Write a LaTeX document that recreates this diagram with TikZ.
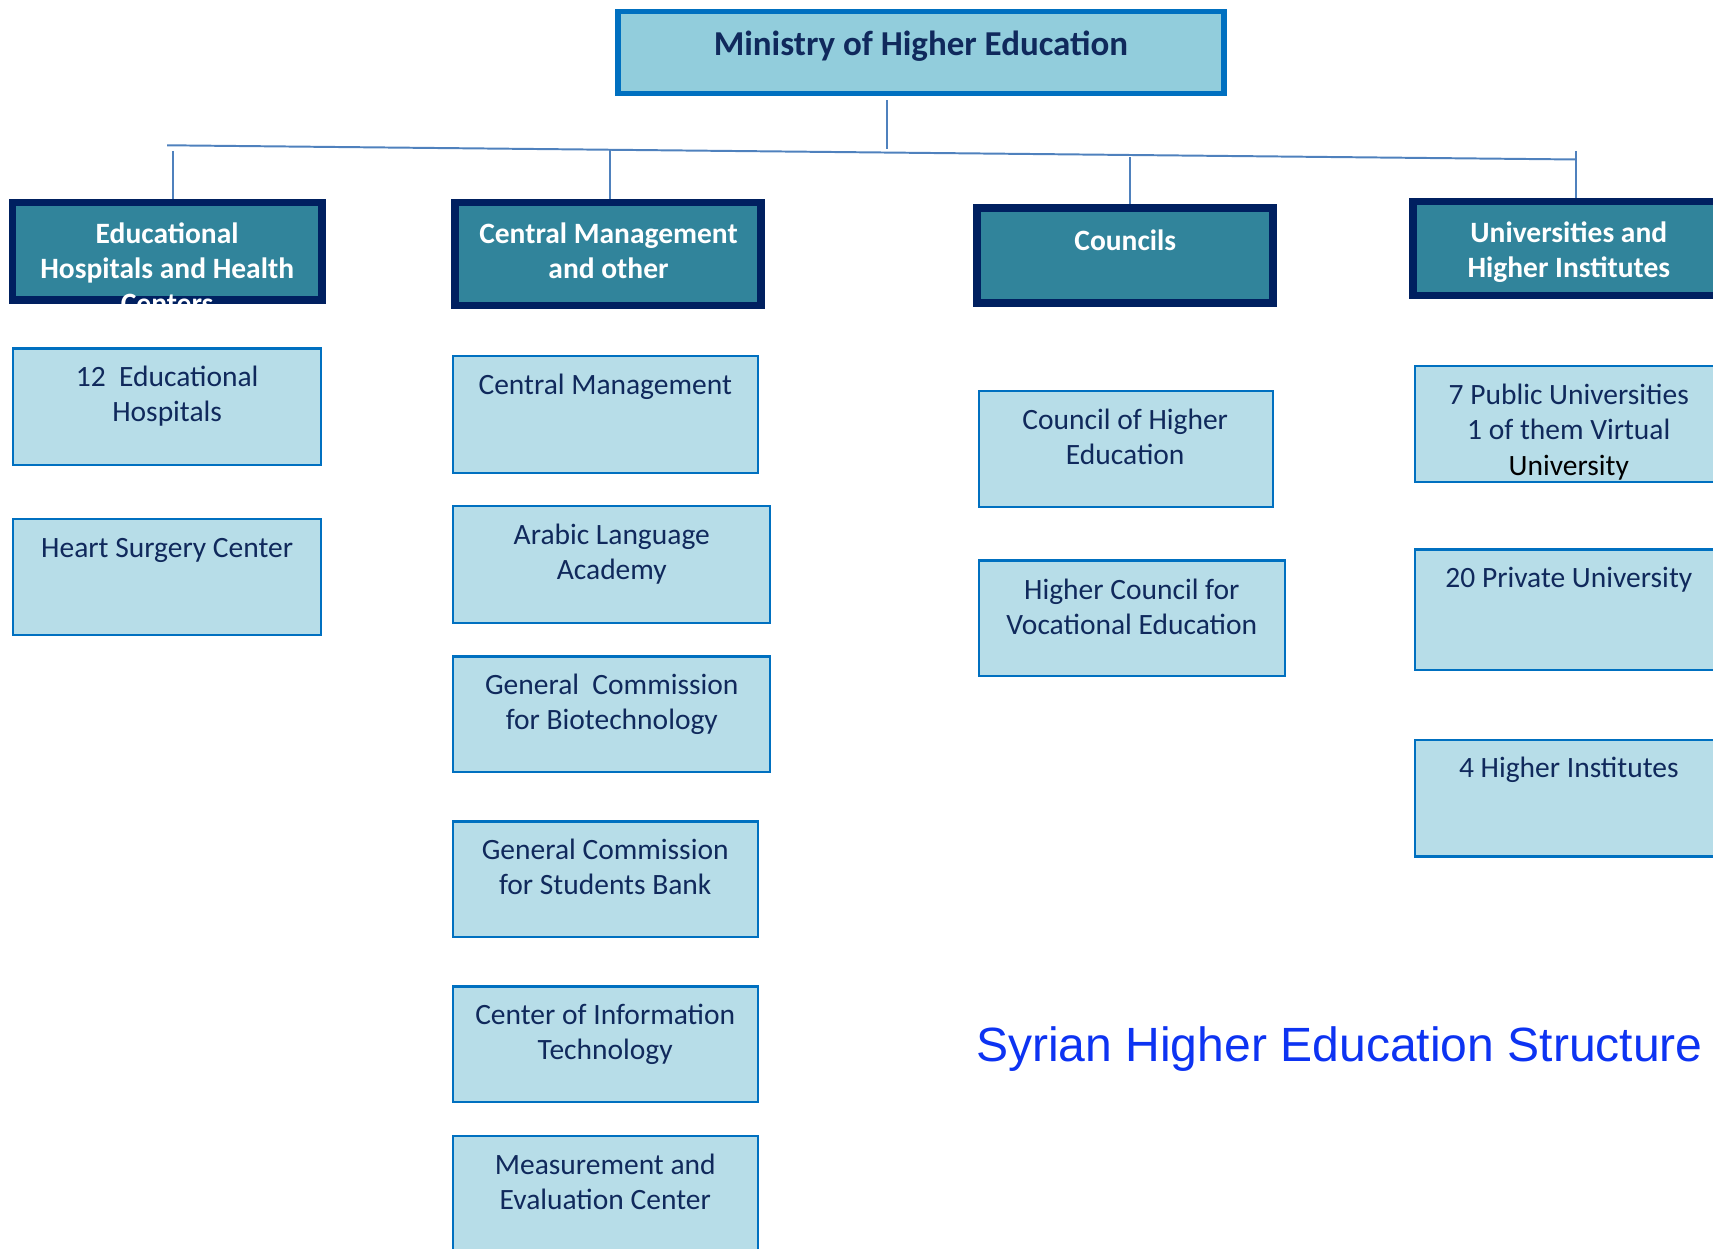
\documentclass[tikz,border=0pt]{standalone}
\usepackage{fontspec}
\setmainfont{Carlito}
\newfontfamily\arialfont{Liberation Sans}
\usetikzlibrary{calc}
\definecolor{navy}{HTML}{002060}
\definecolor{mblue}{HTML}{0070C0}
\definecolor{mfill}{HTML}{92CDDC}
\definecolor{hfill}{HTML}{31849B}
\definecolor{bfill}{HTML}{B7DDE8}
\definecolor{txtnavy}{HTML}{10295C}
\definecolor{linec}{HTML}{4F81BD}
\definecolor{ttlblue}{HTML}{0D33F2}
\newcommand\mkbox[6]{\node[#2, minimum width={(#5-#3)*0.5pt}, minimum height={(#6-#4)*0.5pt}] (#1) at ({(#3+#5)/2},{(#4+#6)/2}) {};}
\begin{document}
\begin{tikzpicture}[x=0.5pt,y=-0.5pt,
  mbox/.style={draw=mblue, line width=2.5pt, fill=mfill, inner sep=0pt},
  hbox/.style={draw=navy, line width=3.5pt, fill=hfill, inner sep=0pt},
  lbox/.style={draw=mblue, line width=1pt, fill=bfill, inner sep=0pt},
  ltext/.style={text=txtnavy, font=\fontsize{13.5}{16}\selectfont, align=center, inner sep=0pt, anchor=base},
  htext/.style={text=white, font=\bfseries\fontsize{13.5}{16}\selectfont, align=center, inner sep=0pt, anchor=base},
  conn/.style={draw=linec, line width=0.9pt}]
\useasboundingbox (0,0) rectangle (1568,1143);
% top
\mkbox{min}{mbox}{565.5}{10.5}{1120.5}{85.5}
\node[text=txtnavy, font=\bfseries\fontsize{16}{19}\selectfont, inner sep=0pt, anchor=base] (mint) at (843,51) {Ministry of Higher Education};
% headers
\mkbox{h1}{hbox}{11.5}{185.5}{294.5}{274.5}
\mkbox{h2}{hbox}{416.5}{185.5}{696.5}{279.5}
\mkbox{h3}{hbox}{894.5}{190.5}{1165.5}{277.5}
\mkbox{h4}{hbox}{1293.5}{184.5}{1620}{270.5}
\begin{scope}
\clip (8,182) rectangle (298,278);
\node[htext] (h1t) at (153,287) {Educational\\Hospitals and Health\\Centers};
\end{scope}
\node[htext] (h2t) at (557,255) {Central Management\\and other};
\node[htext] (h3t) at (1030,229) {Councils};
\node[htext] (h4t) at (1436,254) {Universities and\\Higher Institutes};
% connectors
\coordinate (hl) at (153,133);
\coordinate (hr) at (1443,146);
\draw[conn] (hl) -- (hr);
\coordinate (j0) at ($(hl)!0.5109!(hr)$);
\coordinate (j1) at ($(hl)!0.0039!(hr)$);
\coordinate (j2) at ($(hl)!0.3140!(hr)$);
\coordinate (j3) at ($(hl)!0.6829!(hr)$);
\coordinate (j4) at (1443,138);
\draw[conn] ([yshift=-2pt]min.south -| j0) -- ([yshift=1.5pt]j0);
\draw[conn] ([yshift=-2.5pt]j1) -- (j1 |- h1.north);
\draw[conn] (j2) -- (j2 |- h2.north);
\draw[conn] ([yshift=-1pt]j3) -- (j3 |- h3.north);
\draw[conn] (j4) -- (j4 |- h4.north);
% column 1
\mkbox{b1}{lbox}{12}{319}{294}{426}
\mkbox{b2}{lbox}{12}{475}{294}{581}
\node[ltext] (b1t) at (153,386) {12\ \ Educational\\Hospitals};
\node[ltext] (b2t) at (153,510) {Heart Surgery Center};
% column 2
\mkbox{c1}{lbox}{415}{326}{694}{433}
\mkbox{c2}{lbox}{415}{463}{705}{570}
\mkbox{c3}{lbox}{415}{601}{705}{707}
\mkbox{c4}{lbox}{415}{752}{694}{858}
\mkbox{c5}{lbox}{415}{903}{694}{1009}
\mkbox{c6}{lbox}{415}{1040}{694}{1170}
\node[ltext] (c1t) at (554,361) {Central Management};
\node[ltext] (c2t) at (560,530) {Arabic Language\\Academy};
\node[ltext] (c3t) at (560,668) {General\ \ Commission\\for Biotechnology};
\node[ltext] (c4t) at (554,819) {General Commission\\for Students Bank};
\node[ltext] (c5t) at (554,970) {Center of Information\\Technology};
\node[ltext] (c6t) at (554,1107) {Measurement and\\Evaluation Center};
% column 3
\mkbox{d1}{lbox}{896}{358}{1165}{464}
\mkbox{d2}{lbox}{896}{513}{1176}{619}
\node[ltext] (d1t) at (1030,425) {Council of Higher\\Education};
\node[ltext] (d2t) at (1036,581) {Higher Council for\\Vocational Education};
% column 4
\mkbox{e1}{lbox}{1295}{335}{1620}{441}
\mkbox{e2}{lbox}{1295}{503}{1620}{613}
\mkbox{e3}{lbox}{1295}{677}{1620}{784}
\node[ltext, font=\fontsize{13.5}{16.25}\selectfont] (e1t) at (1436,435) {7 Public Universities\\1 of them Virtual\\\textcolor{black}{University}};
\node[ltext] (e2t) at (1436,538) {20 Private University};
\node[ltext] (e3t) at (1436,712) {4 Higher Institutes};
% title
\node[text=ttlblue, font=\arialfont\fontsize{22}{26}\selectfont, inner sep=0pt, anchor=base west] (title) at (893,972) {Syrian Higher Education Structure};
\end{tikzpicture}
\end{document}
